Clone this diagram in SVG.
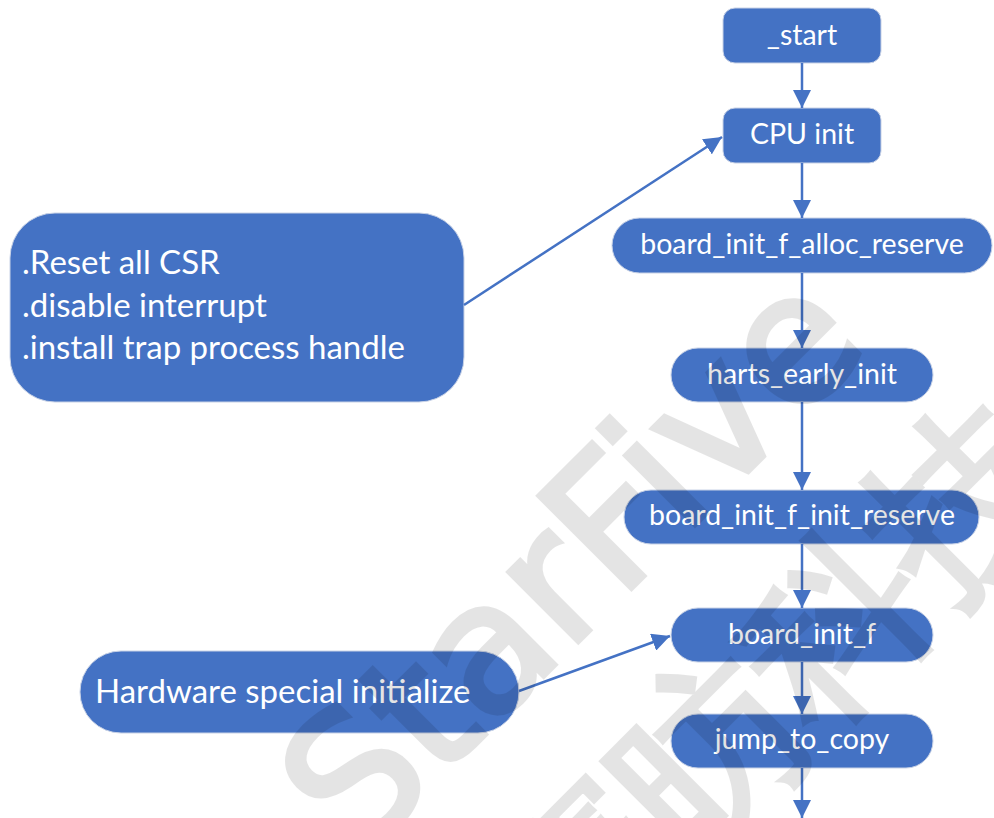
<svg xmlns="http://www.w3.org/2000/svg" width="994" height="818" viewBox="0 0 994 818">
  <style>
    .node { fill: #4472C4; stroke: #c8d2e6; stroke-width: 1; }
    .lbl { font-family: Lato, "Liberation Sans", sans-serif; font-size: 28.5px; fill: #ffffff; text-anchor: middle; }
    .note { font-family: Lato, "Liberation Sans", sans-serif; font-size: 33px; fill: #ffffff; }
    .edge { stroke: #4472C4; stroke-width: 2.5; fill: none; marker-end: url(#ah); }
    .wm { font-family: "DejaVu Sans", sans-serif; fill: #000000; stroke: #000000; stroke-width: 5; stroke-linejoin: miter; text-anchor: middle; }
  </style>
  <defs>
    <marker id="ah" viewBox="0 0 18 18" refX="18" refY="9" markerWidth="18" markerHeight="18" markerUnits="userSpaceOnUse" orient="auto">
      <path d="M0,0 L18,9 L0,18 z" fill="#4472C4"/>
    </marker>
  </defs>
  <rect width="994" height="818" fill="#ffffff"/>

  <!-- flow nodes -->
  <g id="n-start">
    <rect class="node" x="723" y="8" width="158" height="55" rx="12"/>
    <text class="lbl" x="802" y="45">_start</text>
  </g>
  <g id="n-cpu-init">
    <rect class="node" x="723" y="108" width="158" height="55" rx="12"/>
    <text class="lbl" x="802" y="144">CPU init</text>
  </g>
  <g id="n-alloc-reserve">
    <rect class="node" x="612" y="218" width="380" height="55" rx="27.5"/>
    <text class="lbl" x="802" y="254">board_init_f_alloc_reserve</text>
  </g>
  <g id="n-harts-early-init">
    <rect class="node" x="671" y="348" width="262" height="54" rx="27"/>
    <text class="lbl" x="802" y="384">harts_early_init</text>
  </g>
  <g id="n-init-reserve">
    <rect class="node" x="624" y="490" width="355" height="54" rx="27"/>
    <text class="lbl" x="802" y="525">board_init_f_init_reserve</text>
  </g>
  <g id="n-board-init-f">
    <rect class="node" x="671" y="608" width="262" height="54" rx="27"/>
    <text class="lbl" x="802" y="644">board_init_f</text>
  </g>
  <g id="n-jump-to-copy">
    <rect class="node" x="671" y="714" width="262" height="54" rx="27"/>
    <text class="lbl" x="802" y="749">jump_to_copy</text>
  </g>

  <!-- side notes -->
  <g id="note-cpu">
    <rect class="node" x="10" y="213" width="454" height="189" rx="45"/>
    <text class="note" x="22" y="274">.Reset all CSR</text>
    <text class="note" x="22" y="317">.disable interrupt</text>
    <text class="note" x="22" y="359">.install trap process handle</text>
  </g>
  <g id="note-hw">
    <rect class="node" x="80" y="651" width="439" height="82" rx="41"/>
    <text class="note" x="95" y="703">Hardware special initialize</text>
  </g>

  <!-- connectors -->
  <g id="edges">
    <line class="edge" x1="802" y1="63" x2="802" y2="108"/>
    <line class="edge" x1="802" y1="163" x2="802" y2="218"/>
    <line class="edge" x1="802" y1="273" x2="802" y2="348"/>
    <line class="edge" x1="802" y1="402" x2="802" y2="490"/>
    <line class="edge" x1="802" y1="544" x2="802" y2="608"/>
    <line class="edge" x1="802" y1="662" x2="802" y2="714"/>
    <line class="edge" x1="802" y1="768" x2="802" y2="818"/>
    <line class="edge" x1="464" y1="305" x2="722" y2="137"/>
    <line class="edge" x1="519" y1="691" x2="670" y2="636"/>
  </g>

  <!-- watermark, translucent over everything -->
  <g id="watermark" opacity="0.1">
    <text class="wm" font-size="180" transform="translate(615,605) rotate(-45)">StarFive</text>
    <text class="wm" font-size="180" font-family="'Noto Sans CJK SC', sans-serif" transform="translate(815,735) rotate(-45)">赛昉科技</text>
  </g>
</svg>
